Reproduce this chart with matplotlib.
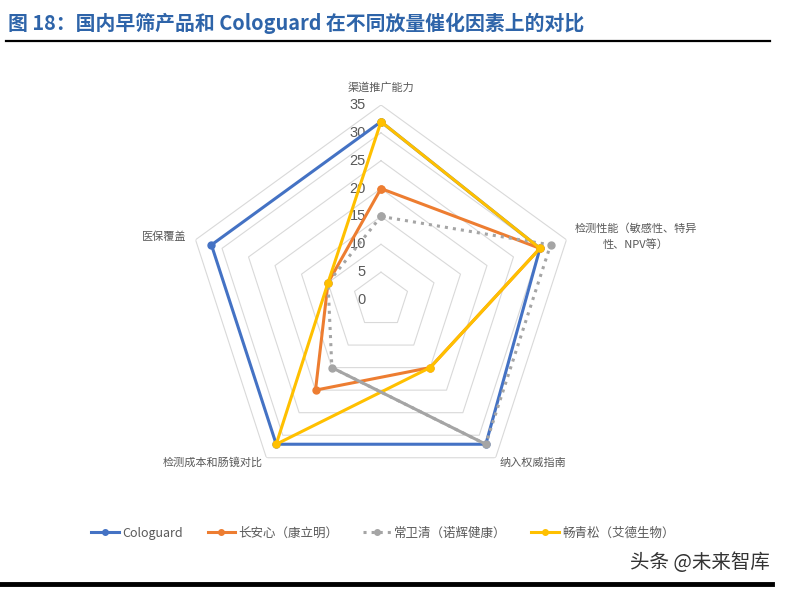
import matplotlib
matplotlib.use('Agg')
import matplotlib.pyplot as plt
import numpy as np
from matplotlib.lines import Line2D

plt.rcParams['font.family'] = ['Noto Sans CJK SC', 'DejaVu Sans']

# Data
categories = ['渠道推广能力', '检测性能（敏感性、特异\n性、NPV等）', '纳入权威指南',
              '检测成本和肠镜对比', '医保覆盖']
series_names = ['Cologuard', '长安心（康立明）', '常卫清（诺辉健康）', '畅青松（艾德生物）']
cologuard = [32, 30, 32, 32, 32]
changanxin = [20, 30, 15, 20, 10]
changweiqing = [15, 32, 32, 15, 10]
changqingsong = [32, 30, 15, 32, 10]
ring_ticks = [0, 5, 10, 15, 20, 25, 30, 35]

colors = ['#4472C4', '#ED7D31', '#A5A5A5', '#FFC000']
styles = ['-', '-', ':', '-']

fig = plt.figure(figsize=(7.85, 5.91), dpi=100)

# Title and rules
fig.text(8 / 785, 1 - 23 / 591, '图 18：国内早筛产品和 Cologuard 在不同放量催化因素上的对比',
         fontsize=14.3, fontweight='bold', color='#2E64A9', ha='left', va='center')
fig.add_artist(Line2D([6 / 785, 770 / 785], [1 - 41 / 591] * 2, color='black', lw=1.6))
fig.add_artist(Line2D([0, 772 / 785], [1 - 584 / 591] * 2, color='black', lw=3.5))
fig.text(770 / 785, 1 - 563 / 591, '头条 @未来智库', fontsize=14, color='#333333',
         ha='right', va='center')

# Radar
ax = fig.add_axes([186 / 785, 96 / 591, 390 / 785, 390 / 591], projection='polar')
ax.set_theta_zero_location('N')
ax.set_theta_direction(-1)
ax.set_ylim(0, 35)
ax.grid(False)
ax.spines['polar'].set_visible(False)
ax.set_xticks([])
ax.set_yticks([])

theta = np.deg2rad(np.arange(5) * 72.0)
theta_c = np.append(theta, theta[0])

for r in ring_ticks[1:]:
    ax.plot(theta_c, [r] * 6, color='#D9D9D9', lw=0.8, zorder=1)
for r in ring_ticks:
    ax.annotate(str(r), xy=(0, r), xytext=(-15, 0), textcoords='offset pixels',
                ha='right', va='center', fontsize=10.5, color='#595959',
                family=['Liberation Sans', 'DejaVu Sans'])

all_series = [cologuard, changanxin, changweiqing, changqingsong]
for vals, c, ls in zip(all_series, colors, styles):
    v = np.append(vals, vals[0])
    ax.plot(theta_c, v, color=c, lw=2.2, ls=ls, marker='o', markersize=5, zorder=3)
# the grey series segment between the two bottom axes is drawn solid in the source
ax.plot(theta[2:4], changweiqing[2:4], color=colors[2], lw=2.2, zorder=3)

label_pos = [((0, 18), 'center'), ((8, 3), 'left'), ((4, -5), 'left'),
             ((-4, -5), 'right'), ((-9, 3), 'right')]
for t, lab, (off, ha) in zip(theta, categories, label_pos):
    ax.annotate(lab, xy=(t, 35), xytext=off, textcoords='offset pixels',
                ha=ha, va='center', multialignment='center', fontsize=8,
                color='#595959', linespacing=1.5)

handles = [Line2D([], [], color=c, lw=2.2, ls=ls, marker='o', markersize=4)
           for c, ls in zip(colors, styles)]
fig.legend(handles, series_names, loc='center', bbox_to_anchor=(383 / 785, 1 - 533 / 591),
           ncol=4, frameon=False, fontsize=9, handlelength=2.2, handletextpad=0.25,
           columnspacing=2.0, labelcolor='#595959')

fig.savefig('out.png', dpi=100)
